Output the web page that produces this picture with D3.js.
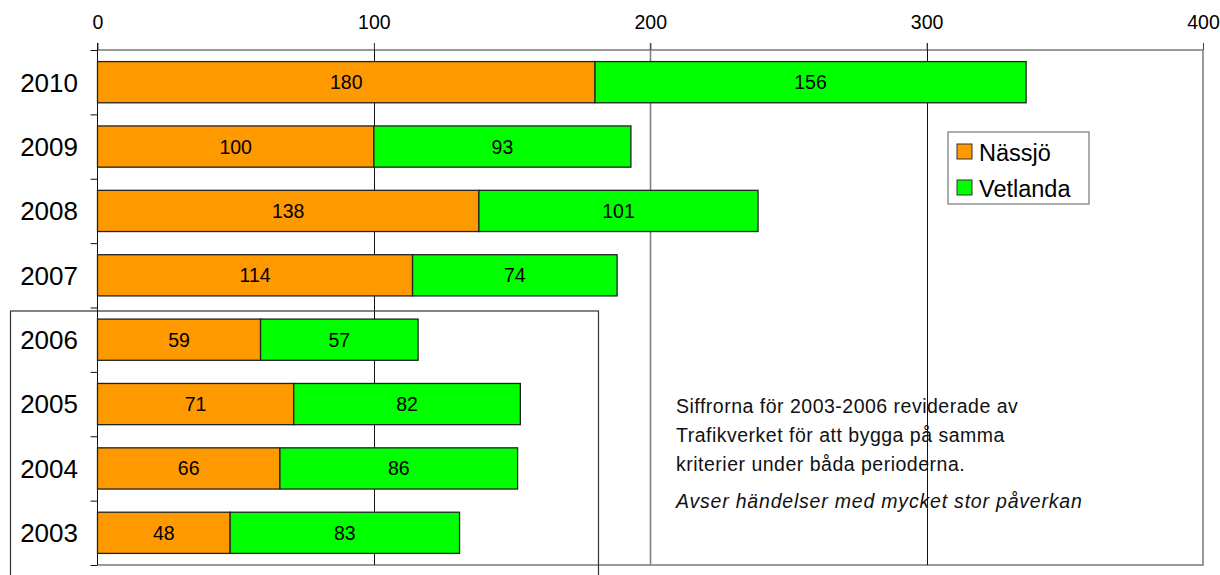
<!DOCTYPE html>
<html>
<head>
<meta charset="utf-8">
<script src="https://cdn.jsdelivr.net/npm/d3@7"></script>
<style>
  body { margin: 0; background: #fff; }
  svg { display: block; }
  svg text { font-family: "Liberation Sans", Arial, sans-serif; }
</style>
</head>
<body>
<svg id="chart" width="1220" height="575"></svg>
<script>
// data
const years = ['2010', '2009', '2008', '2007', '2006', '2005', '2004', '2003'];
const nassjo = [180, 100, 138, 114, 59, 71, 66, 48];
const vetlanda = [156, 93, 101, 74, 57, 82, 86, 83];
const seriesNames = ['Nässjö', 'Vetlanda'];
const seriesColors = ['#ff9900', '#00ff00'];
const xTicks = [0, 100, 200, 300, 400];
const noteLines = [
    'Siffrorna för 2003-2006 reviderade av',
    'Trafikverket för att bygga på samma',
    'kriterier under båda perioderna.'
];
const noteItalic = 'Avser händelser med mycket stor påverkan';

const svg = d3.select('#chart');

const plotLeft = 97.5, plotRight = 1203, plotTop = 50, plotBottom = 565;

const xScale = d3.scaleLinear()
    .domain([0, 400])
    .range([plotLeft, plotRight]);

const yScale = d3.scaleBand()
    .domain(years)
    .range([plotTop, plotBottom])
    .paddingInner(0.36)
    .paddingOuter(0.18);

// boundaries between categories, for the y ticks
const yEdge = d3.scaleLinear()
    .domain([0, years.length])
    .range([plotTop, plotBottom]);

/*plot frame*/
svg.append('path')
    .attr('d', `M${plotLeft},${plotTop}H${plotRight}V${plotBottom}H${plotLeft}`)
    .attr('fill', 'none')
    .attr('stroke', '#7a7a7a')
    .attr('stroke-width', 1.5);

/*grid lines*/
svg.append('g')
    .selectAll('line')
    .data(xTicks.filter(d => d > 0 && d < 400))
    .enter()
    .append('line')
    .attr('x1', d => Math.round(xScale(d)) + 0.5)
    .attr('x2', d => Math.round(xScale(d)) + 0.5)
    .attr('y1', plotTop - 7)
    .attr('y2', plotBottom)
    .attr('stroke', d => d == 200 ? '#808080' : '#111')
    .attr('stroke-width', d => d == 200 ? 1.6 : 1);

/*x axis on top*/
const xAxis = svg.append('g')
    .attr('transform', `translate(0, ${plotTop})`)
    .call(d3.axisTop(xScale).tickValues(xTicks).tickSize(7).tickPadding(14));
xAxis.attr('font-family', null);
xAxis.select('.domain').remove();
xAxis.selectAll('line').attr('stroke', '#444');
xAxis.selectAll('text')
    .attr('font-size', 19.5)
    .attr('fill', '#000');

/*y axis with ticks between the years*/
const yAxis = svg.append('g')
    .attr('transform', `translate(${plotLeft}, 0)`)
    .call(d3.axisLeft(yEdge).ticks(years.length).tickSize(7).tickFormat(''));
yAxis.select('.domain').attr('stroke', '#111').attr('d', `M0,${plotTop - 7}V${plotBottom}`);
yAxis.selectAll('line').attr('stroke', '#111');

svg.append('g')
    .selectAll('text')
    .data(years)
    .enter()
    .append('text')
    .attr('x', 78)
    .attr('y', d => yScale(d) + yScale.bandwidth() / 2)
    .attr('dy', '0.36em')
    .attr('text-anchor', 'end')
    .attr('font-size', 26)
    .text(d => d);

/*stacked bars*/
const rows = years.map((y, i) => ({ year: y, values: [nassjo[i], vetlanda[i]] }));

const barGroups = svg.append('g')
    .selectAll('g')
    .data(rows)
    .enter()
    .append('g');

barGroups.each(function (r) {
    const g = d3.select(this);
    let start = 0;
    r.values.forEach((v, k) => {
        const x0 = xScale(start), x1 = xScale(start + v);
        g.append('rect')
            .attr('x', x0)
            .attr('y', yScale(r.year))
            .attr('width', x1 - x0)
            .attr('height', yScale.bandwidth())
            .attr('fill', seriesColors[k])
            .attr('stroke', '#222')
            .attr('stroke-width', 1.3);
        g.append('text')
            .attr('x', (x0 + x1) / 2)
            .attr('y', yScale(r.year) + yScale.bandwidth() / 2)
            .attr('dy', '0.36em')
            .attr('text-anchor', 'middle')
            .attr('font-size', 19.5)
            .text(v);
        start += v;
    });
});

/*box round 2003-2006*/
svg.append('rect')
    .attr('x', 10.5)
    .attr('y', 311)
    .attr('width', 588)
    .attr('height', 300)
    .attr('fill', 'none')
    .attr('stroke', '#333')
    .attr('stroke-width', 1.2);

/*legend*/
const legend = svg.append('g').attr('transform', 'translate(948, 132)');
legend.append('rect')
    .attr('width', 141)
    .attr('height', 72)
    .attr('fill', '#fff')
    .attr('stroke', '#808080')
    .attr('stroke-width', 1.3);
seriesNames.forEach((s, i) => {
    legend.append('rect')
        .attr('x', 9)
        .attr('y', 12 + i * 36)
        .attr('width', 15)
        .attr('height', 15)
        .attr('fill', seriesColors[i])
        .attr('stroke', '#333');
    legend.append('text')
        .attr('x', 31)
        .attr('y', 29 + i * 36)
        .attr('font-size', 23.5)
        .text(s);
});

/*note text*/
const note = svg.append('g');
noteLines.forEach((t, i) => {
    note.append('text')
        .attr('x', 676)
        .attr('y', 413 + i * 29)
        .attr('font-size', 19.5)
        .attr('letter-spacing', 0.5)
        .attr('fill', '#111')
        .text(t);
});
note.append('text')
    .attr('x', 676)
    .attr('y', 508)
    .attr('font-size', 19.5)
    .attr('letter-spacing', 0.8)
    .attr('font-style', 'italic')
    .attr('fill', '#111')
    .text(noteItalic);
</script>
</body>
</html>
